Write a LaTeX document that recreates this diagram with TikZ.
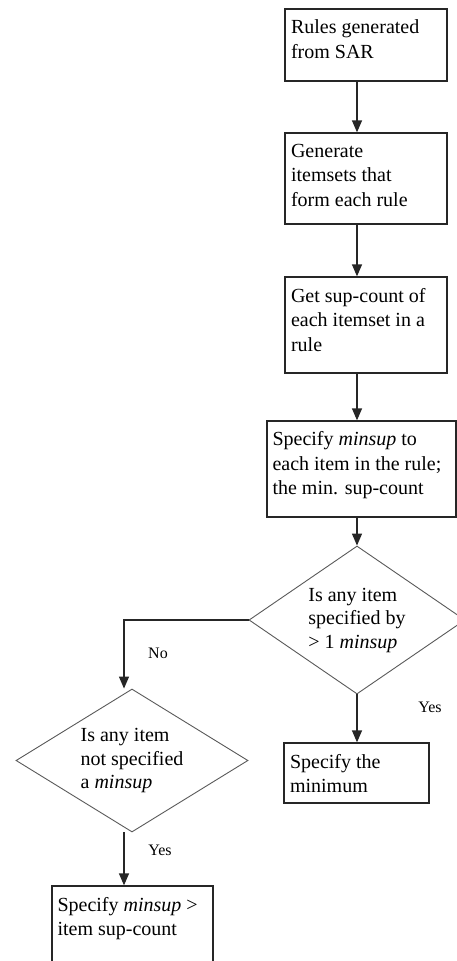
\documentclass[tikz,border=0pt]{standalone}
\usepackage{fontspec}
\setmainfont{Liberation Serif}
\usetikzlibrary{shapes.geometric,arrows.meta}

\begin{document}
\begin{tikzpicture}[x=1pt,y=-1pt,
  box/.style={draw=black!85, line width=1.3pt, rectangle, inner sep=0pt, fill=white},
  dbox/.style={draw=black!65, line width=0.9pt, diamond, inner sep=0pt},
  txt/.style={anchor=north west, inner sep=0pt, align=left, font=\fontsize{20}{24.5}\selectfont},
  dtxt/.style={inner sep=0pt, align=left, font=\fontsize{20}{23.5}\selectfont},
  lbl/.style={font=\fontsize{16}{18}\selectfont},
  arr/.style={-{Triangle[width=10pt,length=12pt]}, line width=1.3pt, black!85}]
\useasboundingbox (0,0) rectangle (457,961);

\node[box, minimum width=162, minimum height=72] (rules) at (366,45) {};
\node[box, minimum width=162, minimum height=91] (gen) at (366,178.5) {};
\node[box, minimum width=162, minimum height=96] (supc) at (366,325) {};
\node[box, minimum width=189, minimum height=96] (spec) at (361.5,469) {};
\node[dbox, minimum width=216, minimum height=148] (dec1) at (357,620) {};
\node[dbox, minimum width=232, minimum height=143] (dec2) at (132,760.5) {};
\node[box, minimum width=145, minimum height=60] (minimum) at (356.5,773) {};
\node[box, minimum width=161, minimum height=88] (greater) at (132.5,930) {};

\node[txt] at ([xshift=6.5,yshift=-11.5]rules.north west) {Rules generated\\from SAR};
\node[txt] at ([xshift=6.5,yshift=-11.5]gen.north west) {Generate\\itemsets that\\form each rule};
\node[txt] at ([xshift=6.5,yshift=-11.5]supc.north west) {Get sup-count of\\each itemset in a\\rule};
\node[txt] at ([xshift=6,yshift=-11]spec.north west) {Specify \textit{minsup} to\\each item in the rule;\\the min. sup-count};
\node[txt] at ([xshift=6.5,yshift=-11.5]minimum.north west) {Specify the\\minimum};
\node[txt] at ([xshift=6,yshift=-11.5]greater.north west) {Specify \textit{minsup} >\\item sup-count};

\node[dtxt] at (dec1) {Is any item\\specified by\\> 1 \textit{minsup}};
\node[dtxt] at (dec2) {Is any item\\not specified\\a \textit{minsup}};

\draw[arr] (rules.south -| dec1.north) -- (gen.north -| dec1.north);
\draw[arr] (gen.south -| dec1.north) -- (supc.north -| dec1.north);
\draw[arr] (supc.south -| dec1.north) -- (spec.north -| dec1.north);
\draw[arr] (spec.south -| dec1.north) -- (dec1.north);
\draw[arr] (dec1.west) -| ([xshift=-8]dec2.north);
\draw[arr] (dec1.south) -- (minimum.north -| dec1.south);
\draw[arr] ([xshift=-8]dec2.south) -- ([xshift=-8]dec2.south |- greater.north);

\node[lbl] (no) at (158,653) {No};
\node[lbl] (yes1) at (430,707) {Yes};
\node[lbl] (yes2) at (160,850) {Yes};
\end{tikzpicture}
\end{document}
